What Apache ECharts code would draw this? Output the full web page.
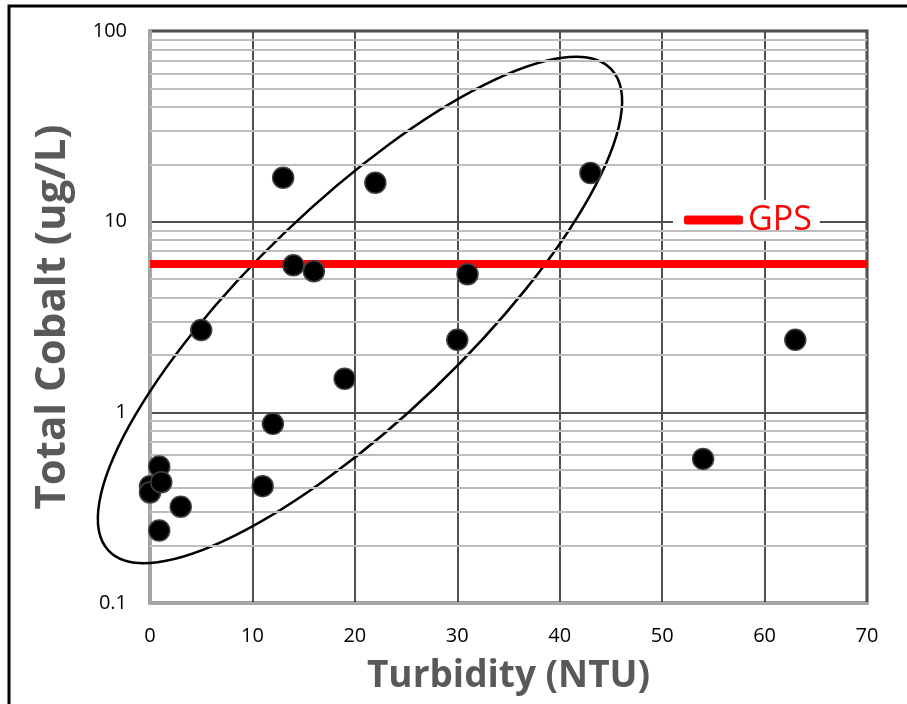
<!DOCTYPE html>
<html>
<head>
<meta charset="utf-8">
<script src="https://cdn.jsdelivr.net/npm/echarts@6/dist/echarts.min.js"></script>
<style>
  html, body { margin: 0; padding: 0; background: #fff; }
  #chart { width: 907px; height: 704px; }
</style>
</head>
<body>
<div id="chart"></div>
<script>
// turbidity (NTU) vs total cobalt (ug/L)
var turbidity = [0, 0, 0.9, 1.1, 0.9, 3, 5, 11, 12, 13, 14, 16, 19, 22, 30, 31, 43, 54, 63]
var cobalt = [0.41, 0.38, 0.52, 0.43, 0.24, 0.32, 2.7, 0.41, 0.87, 17, 5.9, 5.5, 1.5, 16, 2.4, 5.3, 18, 0.57, 2.4]
var gpsLimit = 6
var minorGridValues = [0.2, 0.3, 0.4, 0.5, 0.6, 0.7, 0.8, 0.9, 2, 3, 4, 5, 6, 7, 8, 9, 20, 30, 40, 50, 60, 70, 80, 90]
var ellipseCenter = [20.5, 3.44] // data coords

var chart = echarts.init(document.getElementById('chart'))

var points = turbidity.map(function (x, i) { return [x, cobalt[i]] })

var option = {
    animation: false,
    backgroundColor: '#fff',
    grid: {
        left: 150,
        right: 40,
        top: 31,
        bottom: 101,
        show: true,
        borderColor: '#404040',
        borderWidth: 3
    },
    legend: {
        data: [{ name: 'GPS', icon: 'roundRect' }],
        left: 673,
        top: 200,
        padding: [3, 8, 3, 11],
        backgroundColor: '#fff',
        itemWidth: 59,
        itemHeight: 9,
        itemGap: 0,
        selectedMode: false,
        textStyle: {
            color: '#ff0000',
            fontSize: 34,
            fontFamily: 'Open Sans'
        }
    },
    xAxis: {
        type: 'value',
        min: 0,
        max: 70,
        interval: 10,
        name: 'Turbidity (NTU)',
        nameLocation: 'middle',
        nameGap: 55,
        nameTextStyle: {
            color: '#595959',
            fontSize: 37,
            fontWeight: 'bold',
            fontFamily: 'Open Sans'
        },
        axisLine: { lineStyle: { color: '#a6a6a6', width: 3 } },
        axisTick: { show: false },
        axisLabel: { margin: 23, color: '#000', fontSize: 20, fontFamily: 'Open Sans' },
        splitLine: { lineStyle: { color: '#505050', width: 2 } }
    },
    yAxis: {
        type: 'log',
        logBase: 10,
        min: 0.1,
        max: 100,
        name: 'Total Cobalt (ug/L)',
        nameLocation: 'middle',
        nameGap: 76,
        nameTextStyle: {
            color: '#595959',
            fontSize: 42,
            fontWeight: 'bold',
            fontFamily: 'Open Sans'
        },
        axisLine: { lineStyle: { color: '#a6a6a6', width: 3 } },
        axisTick: { show: false },
        axisLabel: {
            margin: 23,
            color: '#000',
            fontSize: 20,
            fontFamily: 'Open Sans',
            formatter: function (v) { return String(+v.toPrecision(3)) }
        },
        splitLine: { lineStyle: { color: '#505050', width: 2 } }
    },
    series: [
        {
            // minor log gridlines
            name: 'minor',
            type: 'line',
            data: [],
            z: 1,
            silent: true,
            markLine: {
                silent: true,
                symbol: 'none',
                label: { show: false },
                lineStyle: { color: '#bdbdbd', width: 2, type: 'solid' },
                data: minorGridValues.map(function (v) { return { yAxis: v } })
            }
        },
        {
            name: 'GPS',
            type: 'line',
            data: [],
            z: 4,
            itemStyle: { color: '#ff0000' },
            lineStyle: { color: '#ff0000', width: 8 },
            markLine: {
                silent: true,
                symbol: 'none',
                label: { show: false },
                lineStyle: { color: '#ff0000', width: 8, type: 'solid' },
                data: [{ yAxis: gpsLimit }]
            }
        },
        {
            name: 'Cobalt',
            type: 'scatter',
            z: 5,
            symbolSize: 21,
            itemStyle: {
                color: '#000',
                borderColor: '#404040',
                borderWidth: 1.5,
                opacity: 1
            },
            data: points
        }
    ]
}

chart.setOption(option)

// hand-drawn ellipse around the main cluster, and the outer frame
var c = chart.convertToPixel({ gridIndex: 0 }, ellipseCenter)
chart.setOption({
    graphic: [
        {
            type: 'ellipse',
            x: c[0],
            y: c[1],
            rotation: 43.8 * Math.PI / 180,
            shape: { cx: 0, cy: 0, rx: 348, ry: 108 },
            style: { fill: 'none', stroke: '#000', lineWidth: 2.5 },
            z: 3,
            silent: true
        },
        {
            type: 'rect',
            shape: { x: 9, y: 6, width: 1000, height: 1000 },
            style: { fill: 'none', stroke: '#000', lineWidth: 3 },
            z: 10,
            silent: true
        }
    ]
})
</script>
</body>
</html>
